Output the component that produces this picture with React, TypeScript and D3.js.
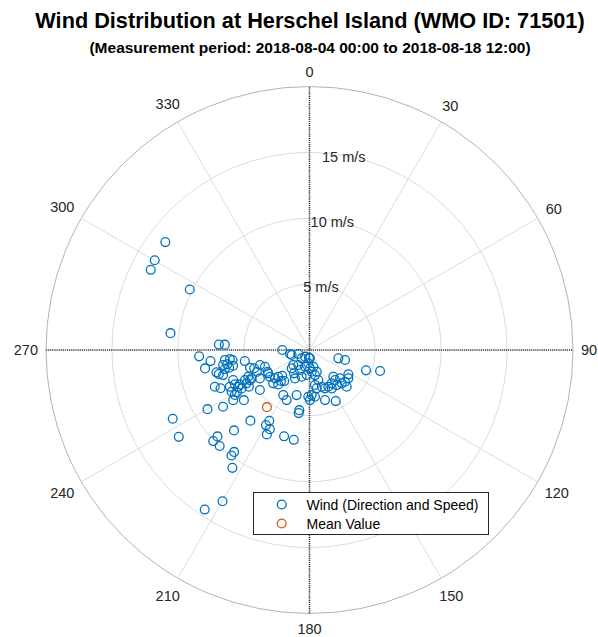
import React from 'react';
import * as d3 from 'd3';

const windDir = [
  306.8, 300.1, 296.8, 296.8, 276.9, 273.4, 273.6, 270.0, 258.4, 250.3,
  183.7, 213.9, 266.7, 263.6, 260.0, 263.3, 263.5, 262.6, 260.1, 260.1,
  257.3, 257.6, 258.4, 260.3, 256.5, 253.8, 248.8, 246.7, 245.2, 245.3,
  242.7, 243.7, 240.5, 241.8, 238.9, 236.7, 245.1, 248.5, 255.1, 253.4,
  251.7, 253.1, 249.4, 242.6, 246.4, 243.9, 242.1, 240.2, 235.9, 230.6,
  229.5, 226.6, 227.4, 222.3, 222.6, 219.1, 224.2, 207.1, 216.8, 205.4,
  231.1, 210.2, 204.5, 254.3, 247.3, 238.8, 185.2, 178.4, 195.1, 167.2,
  174.2, 186.4, 196.3, 167.6, 106.1, 105.7, 163.7, 171.1, 169.4, 177.2,
  181.5, 179.4, 161.6, 158.0, 152.9, 149.9, 142.2, 136.0, 131.8, 126.1,
  134.6, 139.6, 132.8, 146.3, 162.8, 195.9, 152.8, 109.8, 106.6, 173.3,
  122.1, 138.3, 213.6, 227.2, 223.2, 189.6, 189.7, 232.6, 239.9, 236.7,
  243.3, 236.4, 219.9, 209.6, 210.1, 206.6, 206.8, 223.2, 196.4, 189.9,
  226.8, 226.6, 223.1, 216.5, 216.5, 213.2, 209.9, 213.3, 239.9, 243.2,
  176.6, 161.6, 240.5
];
const windSpeed = [
  13.67, 13.58, 13.5, 10.18, 10.63, 6.89, 6.44, 2.07, 1.51, 0.9,
  0.59, 0.61, 8.39, 7.56, 8.05, 6.47, 6.08, 5.89, 6.65, 6.34,
  6.59, 6.25, 5.92, 4.98, 7.26, 6.83, 7.71, 7.35, 6.66, 6.24,
  6.09, 5.89, 5.92, 6.71, 6.62, 6.93, 5.41, 6.23, 7.12, 4.72,
  4.42, 3.93, 3.61, 3.58, 5.08, 4.89, 5.41, 4.34, 3.63, 3.39,
  3.12, 2.85, 3.74, 3.53, 3.2, 3.04, 1.94, 2.42, 1.42, 1.68,
  4.84, 3.96, 4.18, 1.41, 4.33, 5.38, 1.01, 1.39, 1.31, 1.3,
  1.66, 1.91, 2.11, 1.95, 2.28, 2.8, 2.38, 2.69, 2.96, 3.43,
  3.55, 3.8, 2.94, 3.14, 3.13, 3.37, 3.37, 3.52, 3.62, 3.65,
  3.97, 2.99, 3.16, 3.04, 3.98, 3.56, 4.36, 4.56, 5.59, 3.57,
  3.48, 2.72, 2.13, 1.68, 0.87, 4.63, 4.86, 6.27, 8.95, 7.85,
  11.62, 11.91, 6.99, 6.18, 6.59, 6.72, 7.18, 8.37, 6.83, 6.92,
  9.58, 10.06, 9.98, 9.62, 9.96, 10.69, 13.24, 14.49, 6.37, 5.07,
  0.63, 1.74, 3.6
];
const meanDir = [216.7];
const meanSpeed = [5.41];

const thetaTicks = d3.range(0, 360, 30);
const rTicks = [5, 10, 15, 20];
const rTickLabels = ['5 m/s', '10 m/s', '15 m/s', ''];
const legendLabels = ['Wind (Direction and Speed)', 'Mean Value'];

const W = 598;
const H = 637;
const cx = 309.5;
const cy = 350;
const R = 263.5;
const font = '"Liberation Sans", Arial, Helvetica, sans-serif';
const blue = '#0072BD';
const orange = '#D95319';

export default function App() {
  const r = d3.scaleLinear().domain([0, 20]).range([0, R]);
  const ang = d3.scaleLinear().domain([0, 360]).range([0, 2 * Math.PI]);
  const pos = (dir: number, sp: number) => d3.pointRadial(ang(dir), r(sp));

  const windPts = windDir.map((d, i) => pos(d, windSpeed[i]));
  const meanPts = meanDir.map((d, i) => pos(d, meanSpeed[i]));

  // push each angle label out by half its own box in that direction
  const labelPos = (t: number) => {
    const a = ang(t);
    const w = String(t).length * 8.1;
    const h = 14;
    const ext = Math.abs(Math.sin(a)) * w / 2 + Math.abs(Math.cos(a)) * h / 2;
    return d3.pointRadial(a, R + 8 + ext);
  };

  return (
    <svg width={W} height={H} style={{ position: 'absolute', left: 0, top: 0, background: '#fff' }}>
      <text x={310} y={28} textAnchor="middle" fontFamily={font} fontWeight="bold" fontSize={21.7}>
        Wind Distribution at Herschel Island (WMO ID: 71501)
      </text>
      <text x={310} y={53} textAnchor="middle" fontFamily={font} fontWeight="bold" fontSize={15.5}>
        (Measurement period: 2018-08-04 00:00 to 2018-08-18 12:00)
      </text>
      <g transform={`translate(${cx},${cy})`}>
        {rTicks.map((t) => (
          <circle key={'c' + t} r={r(t)} fill="none"
            stroke={t === 20 ? '#b4b4b4' : '#dcdcdc'} strokeWidth={1} />
        ))}
        {thetaTicks.filter((t) => t % 90 !== 0).map((t) => {
          const [x, y] = d3.pointRadial(ang(t), R);
          return <line key={'s' + t} x1={0} y1={0} x2={x} y2={y} stroke="#dcdcdc" strokeWidth={1} />;
        })}
        {[0, 90].map((t) => {
          const [x, y] = d3.pointRadial(ang(t), R);
          return <line key={'d' + t} x1={-x} y1={-y} x2={x} y2={y}
            stroke="#333" strokeWidth={1.6} strokeDasharray="1.2 0.9" />;
        })}
        {thetaTicks.map((t) => {
          const [x, y] = labelPos(t);
          return (
            <text key={'t' + t} x={x} y={y} textAnchor="middle" dominantBaseline="central"
              fontFamily={font} fontSize={14.5} fill="#262626">{t}</text>
          );
        })}
        {rTicks.map((t, i) => {
          const [x, y] = d3.pointRadial(ang(10), r(t));
          return (
            <text key={'r' + t} x={x} y={y + 2} textAnchor="middle" dominantBaseline="central"
              fontFamily={font} fontSize={14.5} fill="#262626">{rTickLabels[i]}</text>
          );
        })}
        {windPts.map(([x, y], i) => (
          <circle key={'w' + i} cx={x} cy={y} r={4.4} fill="none" stroke={blue} strokeWidth={1.3} />
        ))}
        {meanPts.map(([x, y], i) => (
          <circle key={'m' + i} cx={x} cy={y} r={4.4} fill="none" stroke={orange} strokeWidth={1.3} />
        ))}
      </g>
      <g>
        <rect x={253.5} y={492.5} width={235} height={42} fill="#fff" stroke="#262626" strokeWidth={1} />
        {legendLabels.map((l, i) => (
          <g key={l} transform={`translate(0,${504.5 + i * 19})`}>
            <circle cx={281.7} cy={0} r={4.4} fill="none" stroke={i === 0 ? blue : orange} strokeWidth={1.3} />
            <text x={306.5} y={0} dominantBaseline="central" fontFamily={font} fontSize={14} fill="#000">{l}</text>
          </g>
        ))}
      </g>
    </svg>
  );
}
